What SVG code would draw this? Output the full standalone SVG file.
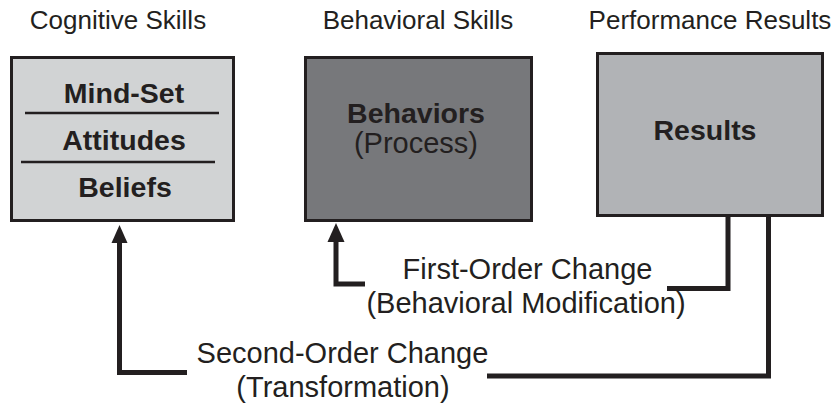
<svg xmlns="http://www.w3.org/2000/svg" width="836" height="406" viewBox="0 0 836 406">
<style>
.box{stroke:#231f20;stroke-width:3}
.t{font-family:"Liberation Sans",Arial,sans-serif;fill:#231f20;text-anchor:middle}
.h{font-size:26px}
.b{font-size:28.5px;font-weight:bold}
.r{font-size:29px}
.c{fill:none;stroke:#231f20;stroke-width:5;stroke-linejoin:miter}
.sep{stroke:#231f20;stroke-width:2.5}
</style>
<defs>
<marker id="arr" markerUnits="userSpaceOnUse" markerWidth="18" markerHeight="20" refX="9" refY="0" orient="auto-start-reverse" viewBox="0 0 18 20" overflow="visible">
<path d="M9 0 L17.5 19 L0.5 19 Z" fill="#231f20"/>
</marker>
</defs>
<g id="headings">
<text class="t h" x="118" y="29">Cognitive Skills</text>
<text class="t h" x="418" y="29">Behavioral Skills</text>
<text class="t h" x="710" y="29">Performance Results</text>
</g>
<g id="cognitive">
<rect class="box" x="11.5" y="57.5" width="222" height="163" fill="#d1d3d4"/>
<line class="sep" x1="25" y1="113" x2="219" y2="113"/>
<line class="sep" x1="21" y1="162" x2="215" y2="162"/>
<text class="t b" x="124" y="103">Mind-Set</text>
<text class="t b" x="124" y="150">Attitudes</text>
<text class="t b" x="125" y="197">Beliefs</text>
</g>
<g id="behaviors">
<rect class="box" x="305.5" y="57.5" width="226" height="163" fill="#77787b"/>
<text class="t b" x="416" y="123">Behaviors</text>
<text class="t r" x="416" y="153">(Process)</text>
</g>
<g id="results">
<rect class="box" x="597.5" y="53.5" width="225" height="162" fill="#b1b3b6"/>
<text class="t b" x="705" y="140">Results</text>
</g>
<g id="connectors">
<polyline class="c" points="728,217 728,288.5 667,288.5"/>
<polyline class="c" points="365,284 336,284 336,240"/>
<path d="M336 223 L344.5 242 L327.5 242 Z" fill="#231f20"/>
<polyline class="c" points="768.5,217 768.5,376 487,376"/>
<polyline class="c" points="187,372.5 119.5,372.5 119.5,241"/>
<path d="M119.5 225 L127.5 243 L111.5 243 Z" fill="#231f20"/>
</g>
<g id="labels">
<text class="t r" x="527.5" y="279">First-Order Change</text>
<text class="t r" x="526" y="313">(Behavioral Modification)</text>
<text class="t r" x="342.5" y="363">Second-Order Change</text>
<text class="t r" x="343" y="397">(Transformation)</text>
</g>
</svg>
